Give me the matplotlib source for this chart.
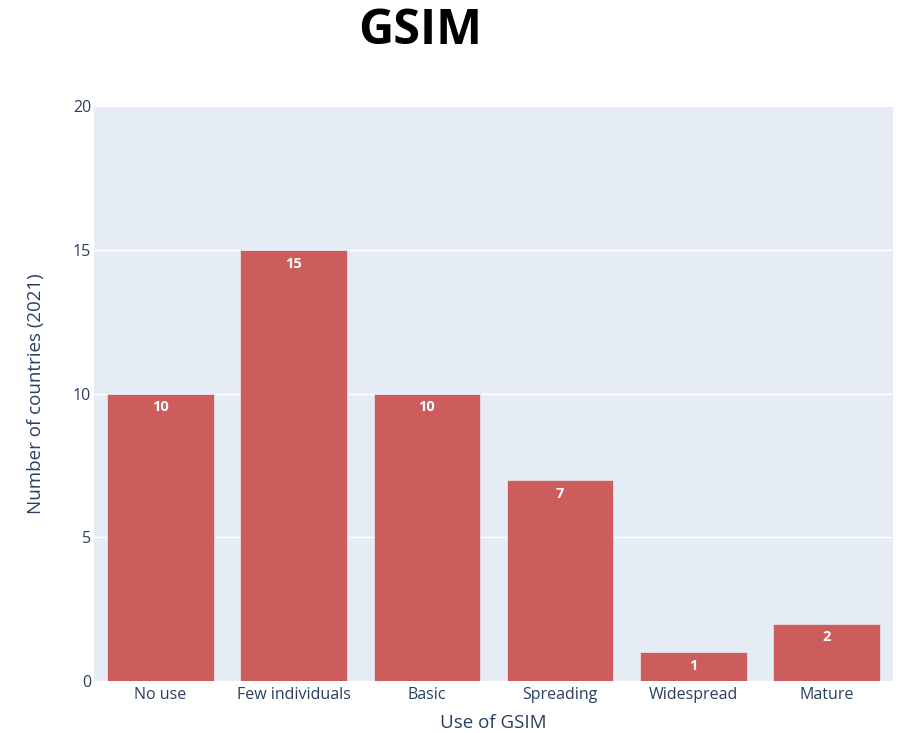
import matplotlib.pyplot as plt
import numpy as np

# data
categories = ['No use', 'Few individuals', 'Basic', 'Spreading', 'Widespread', 'Mature']
countries = [10, 15, 10, 7, 1, 2]
y_ticks = [0, 5, 10, 15, 20]

bar_color = '#CD5C5C'
bg_color = '#E5ECF6'
text_color = '#2a3f5f'

fig = plt.figure(figsize=(8.98, 7.33), dpi=100)
ax = fig.add_axes([94 / 898, 52 / 733, 799 / 898, 575 / 733])
ax.set_facecolor(bg_color)

x = np.arange(len(categories))
bars = ax.bar(x, countries, width=0.8, color=bar_color, edgecolor=bg_color, linewidth=0.5, zorder=3)

# value labels inside the top of each bar
for rect, v in zip(bars, countries):
    ax.annotate(str(v), (rect.get_x() + rect.get_width() / 2, rect.get_height()),
                xytext=(0, -5), textcoords='offset points', ha='center', va='top',
                color='white', fontsize=10.5, fontweight='bold', family='Open Sans', zorder=4)

ax.set_xlim(-0.5, len(categories) - 0.5)
ax.set_ylim(0, 20)
ax.set_yticks(y_ticks)
ax.set_xticks(x)
ax.set_xticklabels(categories)
ax.grid(axis='y', color='white', linewidth=1.0, zorder=0)
ax.set_axisbelow(True)
for s in ax.spines.values():
    s.set_visible(False)
ax.tick_params(length=0, colors=text_color, labelsize=11.5)
for lbl in ax.get_xticklabels() + ax.get_yticklabels():
    lbl.set_family('Open Sans')
ax.tick_params(axis='x', pad=4)
ax.tick_params(axis='y', pad=2)

ax.set_xlabel('Use of GSIM', color=text_color, fontsize=13.5, family='Open Sans', labelpad=8)
ax.set_ylabel('Number of countries (2021)', color=text_color, fontsize=13.5, family='Open Sans', labelpad=20)

fig.text(420 / 898, 1 - 32 / 733, 'GSIM', ha='center', va='center', fontsize=35,
         fontweight='bold', family='Open Sans', color='black')

plt.savefig('out.png', dpi=100)
